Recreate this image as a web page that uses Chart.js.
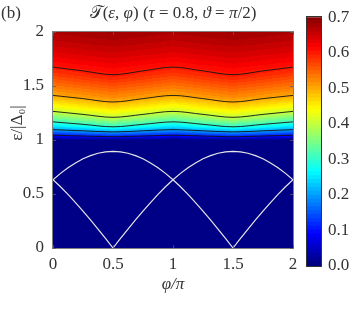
<!DOCTYPE html>
<html><head><meta charset="utf-8">
<script src="https://cdn.jsdelivr.net/npm/chart.js@4.4.1/dist/chart.umd.min.js"></script>
<style>
html,body{margin:0;padding:0;background:#fff;}
#wrap{position:relative;width:353px;height:318px;}
#main{position:absolute;left:0;top:0;}
#cbar{position:absolute;left:293px;top:0;}
</style></head>
<body>
<div id="wrap">
<canvas id="main" width="353" height="318"></canvas>
<canvas id="cbar" width="60" height="318"></canvas>
</div>
<script>
// ---- data ----
const phiTicks = [0, 0.5, 1, 1.5, 2];
const epsTicks = [0, 0.5, 1, 1.5, 2];
const cbarTicks = [0, 0.1, 0.2, 0.3, 0.4, 0.5, 0.6, 0.7];

// heat map grid: T(eps, phi)
const phiCols = [0, 0.25, 0.5, 0.75, 1, 1.25, 1.5, 1.75, 2];
const epsRows = [0, 1.0, 1.01, 1.02, 1.04, 1.06, 1.08, 1.10, 1.13, 1.16, 1.20, 1.25, 1.30, 1.40, 1.50, 1.60, 1.70, 1.80, 1.90, 2.00];
const tRows = [
  [0,0,0,0,0,0,0,0,0],
  [0,0,0,0,0,0,0,0,0],
  [0.022,0.028,0.033,0.028,0.022,0.028,0.033,0.028,0.022],
  [0.045,0.056,0.067,0.056,0.045,0.056,0.067,0.056,0.045],
  [0.091,0.107,0.122,0.107,0.091,0.107,0.122,0.107,0.091],
  [0.131,0.149,0.167,0.149,0.131,0.149,0.167,0.149,0.131],
  [0.169,0.190,0.210,0.190,0.169,0.190,0.210,0.190,0.169],
  [0.206,0.227,0.248,0.227,0.206,0.227,0.248,0.227,0.206],
  [0.250,0.277,0.304,0.277,0.250,0.277,0.304,0.277,0.250],
  [0.294,0.317,0.340,0.317,0.294,0.317,0.340,0.317,0.294],
  [0.338,0.363,0.388,0.363,0.338,0.363,0.388,0.363,0.338],
  [0.390,0.409,0.428,0.409,0.390,0.409,0.428,0.409,0.390],
  [0.426,0.445,0.463,0.445,0.426,0.445,0.463,0.445,0.426],
  [0.492,0.506,0.519,0.506,0.492,0.506,0.519,0.506,0.492],
  [0.533,0.546,0.558,0.546,0.533,0.546,0.558,0.546,0.533],
  [0.571,0.585,0.598,0.585,0.571,0.585,0.598,0.585,0.571],
  [0.606,0.614,0.622,0.614,0.606,0.614,0.622,0.614,0.606],
  [0.631,0.638,0.644,0.638,0.631,0.638,0.644,0.638,0.631],
  [0.652,0.658,0.663,0.658,0.652,0.658,0.663,0.658,0.652],
  [0.670,0.675,0.680,0.675,0.670,0.675,0.680,0.675,0.670]
];

// contour lines (eps at phiCols)
const contour06 = [1.675,1.640,1.605,1.640,1.675,1.640,1.605,1.640,1.675];
const contour05 = [1.413,1.383,1.352,1.383,1.413,1.383,1.352,1.383,1.413];
const contour04 = [1.265,1.237,1.210,1.237,1.265,1.237,1.210,1.237,1.265];
const contour03 = [1.168,1.145,1.122,1.145,1.168,1.145,1.122,1.145,1.168];
const contour02 = [1.096,1.085,1.075,1.085,1.096,1.085,1.075,1.085,1.096];
const contour01 = [1.044,1.037,1.030,1.037,1.044,1.037,1.030,1.037,1.044];

// white lines (bound states)
const phiLine = [0,0.0625,0.125,0.1875,0.25,0.3125,0.375,0.4375,0.5,0.5625,0.625,0.6875,0.75,0.8125,0.875,0.9375,1,
  1.0625,1.125,1.1875,1.25,1.3125,1.375,1.4375,1.5,1.5625,1.625,1.6875,1.75,1.8125,1.875,1.9375,2];
const stateA = [0.632,0.691,0.743,0.788,0.826,0.855,0.877,0.890,0.894,0.890,0.877,0.855,0.826,0.788,0.743,0.691,0.632,
  0.567,0.497,0.421,0.342,0.260,0.174,0.088,0,0.088,0.174,0.260,0.342,0.421,0.497,0.567,0.632];
const stateB = [0.632,0.567,0.497,0.421,0.342,0.260,0.174,0.088,0,0.088,0.174,0.260,0.342,0.421,0.497,0.567,0.632,
  0.691,0.743,0.788,0.826,0.855,0.877,0.890,0.894,0.890,0.877,0.855,0.826,0.788,0.743,0.691,0.632];

const T_MAX = 0.7;
const N_COLORS = 64;

// ---- helpers ----
function jet(v){
  let x = Math.max(0, Math.min(1, v / T_MAX));
  let k = Math.min(N_COLORS - 1, Math.floor(x * N_COLORS));
  const xc = (k + 0.5) / N_COLORS;
  const c = t => Math.round(255 * Math.max(0, Math.min(1, 1.5 - Math.abs(t))));
  return [c(4*xc - 3), c(4*xc - 2), c(4*xc - 1)];
}
function findIdx(arr, v){
  if (v <= arr[0]) return 0;
  for (let i = 0; i < arr.length - 1; i++) if (v <= arr[i+1]) return i;
  return arr.length - 2;
}
function sampleT(phi, eps){
  const i = findIdx(phiCols, phi), j = findIdx(epsRows, eps);
  const fx = Math.max(0, Math.min(1, (phi - phiCols[i]) / (phiCols[i+1] - phiCols[i])));
  const fy = Math.max(0, Math.min(1, (eps - epsRows[j]) / (epsRows[j+1] - epsRows[j])));
  const a = tRows[j][i], b = tRows[j][i+1], c = tRows[j+1][i], d = tRows[j+1][i+1];
  return (a*(1-fx) + b*fx)*(1-fy) + (c*(1-fx) + d*fx)*fy;
}
const pts = (xs, ys) => xs.map((x, i) => ({x: x, y: ys[i]}));

const FONT = 'Liberation Serif, DejaVu Serif, serif';
const TXT = '#333';
const FS = 17;

const heatmapPlugin = {
  id: 'heatmap',
  beforeDatasetsDraw(chart){
    const {ctx, chartArea: a, scales: {x, y}} = chart;
    const L = Math.round(a.left), T = Math.round(a.top);
    const W = Math.round(a.right) - L, H = Math.round(a.bottom) - T;
    const img = ctx.createImageData(W, H);
    for (let py = 0; py < H; py++){
      const eps = y.getValueForPixel(T + py + 0.5);
      for (let px = 0; px < W; px++){
        const phi = x.getValueForPixel(L + px + 0.5);
        const col = jet(sampleT(phi, eps));
        const o = (py * W + px) * 4;
        img.data[o] = col[0]; img.data[o+1] = col[1]; img.data[o+2] = col[2]; img.data[o+3] = 255;
      }
    }
    ctx.putImageData(img, L, T);
  },
  afterDraw(chart){
    const {ctx, chartArea: a, scales: {x, y}} = chart;
    ctx.save();
    ctx.strokeStyle = '#7f7f7f';
    ctx.lineWidth = 1;
    ctx.strokeRect(Math.round(a.left) - 0.5, Math.round(a.top) - 0.5, Math.round(a.right - a.left) + 1, Math.round(a.bottom - a.top) + 1);
    ctx.strokeStyle = 'rgba(90,90,90,0.8)';
    ctx.beginPath();
    phiTicks.forEach(v => {
      const px = Math.round(x.getPixelForValue(v)) + 0.5;
      ctx.moveTo(px, a.top); ctx.lineTo(px, a.top + 3);
      ctx.moveTo(px, a.bottom); ctx.lineTo(px, a.bottom - 3);
    });
    epsTicks.forEach(v => {
      const py = Math.round(y.getPixelForValue(v)) + 0.5;
      ctx.moveTo(a.left, py); ctx.lineTo(a.left + 3, py);
      ctx.moveTo(a.right, py); ctx.lineTo(a.right - 3, py);
    });
    ctx.stroke();
    // panel label and title
    ctx.fillStyle = TXT;
    ctx.textBaseline = 'middle';
    ctx.textAlign = 'left';
    ctx.font = FS + 'px ' + FONT;
    ctx.fillText('(b)', 1, 14);
    const segs = [['𝒯','normal'],['(','normal'],['ε','italic'],[', ','normal'],['φ','italic'],[') (','normal'],
      ['τ','italic'],[' = 0.8, ','normal'],['ϑ','italic'],[' = ','normal'],['π','italic'],['/2)','normal']];
    let total = 0;
    segs.forEach(s => { ctx.font = s[1] + ' ' + FS + 'px ' + FONT; s.w = ctx.measureText(s[0]).width; total += s.w; });
    let cx = (a.left + a.right) / 2 - total / 2;
    segs.forEach(s => { ctx.font = s[1] + ' ' + FS + 'px ' + FONT; ctx.fillText(s[0], cx, 14); cx += s.w; });
    ctx.restore();
  }
};

const lineDs = (data, color, w) => ({data, borderColor: color, borderWidth: w, pointRadius: 0, fill: false});
const contourDs = d => Object.assign(lineDs(pts(phiCols, d), 'rgba(20,20,20,0.9)', 1), {cubicInterpolationMode: 'monotone'});
const fmt = v => String(Math.round(v * 100) / 100);

new Chart(document.getElementById('main'), {
  type: 'line',
  data: {datasets: [
    contourDs(contour06), contourDs(contour05), contourDs(contour04),
    contourDs(contour03), contourDs(contour02), contourDs(contour01),
    lineDs(pts(phiLine, stateA), '#e6e6e6', 1.2),
    lineDs(pts(phiLine, stateB), '#e6e6e6', 1.2)
  ]},
  options: {
    responsive: false, animation: false, devicePixelRatio: 1,
    layout: {padding: {top: 32, right: 60, bottom: 0, left: 0}},
    plugins: {legend: {display: false}, tooltip: {enabled: false}},
    scales: {
      x: {type: 'linear', min: 0, max: 2,
        afterBuildTicks: s => { s.ticks = phiTicks.map(v => ({value: v})); },
        ticks: {padding: 6, color: TXT, font: {family: FONT, size: FS}, callback: fmt},
        grid: {display: false, drawTicks: false},
        border: {display: false},
        title: {display: true, text: 'φ/π', color: TXT, font: {family: FONT, size: FS, style: 'italic'}, padding: {top: 0, bottom: 23}},
        afterFit: s => { s.height = 70; }
      },
      y: {type: 'linear', min: 0, max: 2,
        afterBuildTicks: s => { s.ticks = epsTicks.map(v => ({value: v})); },
        ticks: {padding: 9, color: TXT, font: {family: FONT, size: FS}, callback: fmt},
        grid: {display: false, drawTicks: false},
        border: {display: false},
        title: {display: true, text: '\u2003\u2003ε/|Δ₀|', color: TXT, font: {family: FONT, size: FS}, padding: {top: 7, bottom: 0}},
        afterFit: s => { s.width = 53; }
      }
    }
  },
  plugins: [heatmapPlugin]
});

// ---- colour bar ----
const bandStep = T_MAX / N_COLORS;
const cbDatasets = [];
for (let k = 0; k < N_COLORS; k++){
  const lo = k * bandStep, hi = Math.min(T_MAX, (k + 1) * bandStep + (k < N_COLORS - 1 ? 0.003 : 0));
  const c = jet(lo + bandStep / 2);
  cbDatasets.push({data: [[lo, hi]], backgroundColor: `rgb(${c[0]},${c[1]},${c[2]})`, borderWidth: 0,
    barPercentage: 1, categoryPercentage: 1, grouped: false});
}
const cbFrame = {
  id: 'cbFrame',
  afterDraw(chart){
    const {ctx, chartArea: a} = chart;
    ctx.save();
    ctx.strokeStyle = '#333';
    ctx.lineWidth = 1;
    ctx.strokeRect(Math.round(a.left) - 0.5, Math.round(a.top) - 0.5, Math.round(a.right - a.left) + 1, Math.round(a.bottom - a.top) + 1);
    ctx.restore();
  }
};
new Chart(document.getElementById('cbar'), {
  type: 'bar',
  data: {labels: [''], datasets: cbDatasets},
  options: {
    responsive: false, animation: false, devicePixelRatio: 1,
    layout: {padding: {top: 14, left: 14, right: 0, bottom: 52}},
    plugins: {legend: {display: false}, tooltip: {enabled: false}},
    scales: {
      x: {display: false},
      y: {position: 'right', min: 0, max: T_MAX,
        afterBuildTicks: s => { s.ticks = cbarTicks.map(v => ({value: v})); },
        ticks: {padding: 7, color: TXT, font: {family: FONT, size: FS}, callback: v => Number(v).toFixed(1)},
        grid: {display: false, drawTicks: false},
        border: {display: false},
        afterFit: s => { s.width = 32; }
      }
    }
  },
  plugins: [cbFrame]
});
</script>
</body></html>
